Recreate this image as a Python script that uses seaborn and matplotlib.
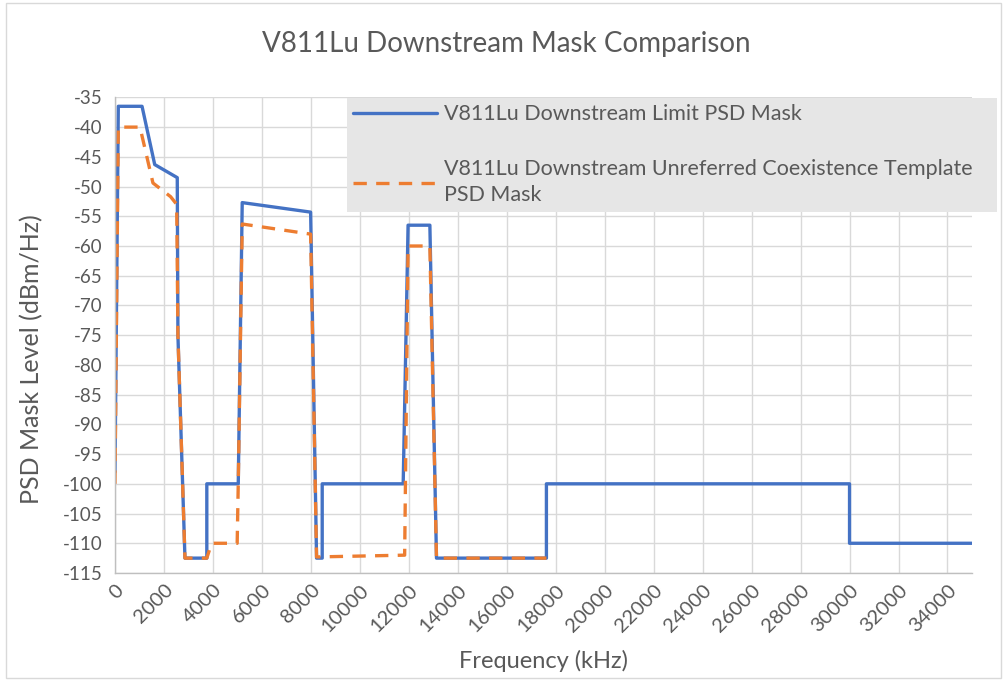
import numpy as np
import pandas as pd
import seaborn as sns
import matplotlib.pyplot as plt
from matplotlib.patches import Rectangle

# values (kHz, dBm/Hz)

freq_limit = [0, 135, 1104, 1622, 2543, 2570, 2857, 3750, 3750, 5034, 5196, 7990,
              8232, 8463, 8463, 11770, 11970, 12860, 13130, 17620, 17620,
              30000, 30000, 35000]
psd_limit = [-98, -36.5, -36.5, -46.3, -48.5, -75, -112.5, -112.5, -100, -100, -52.7, -54.3,
             -112.5, -112.5, -100, -100, -56.5, -56.5, -112.5, -112.5, -100,
             -100, -110, -110]

freq_template = [0, 135, 1020, 1550, 2270, 2520, 2570, 2857, 3750, 3945, 4990, 5034,
                 5196, 7990, 8232, 11830, 11970, 12860, 13130, 17620]
psd_template = [-100, -40, -40, -49.4, -51.7, -53, -75, -112.5, -112.5, -110, -110, -100,
                -56.3, -58, -112.3, -112, -60, -60, -112.5, -112.5]

label_limit = 'V811Lu Downstream Limit PSD Mask'
label_template = 'V811Lu Downstream Unreferred Coexistence Template\nPSD Mask'

x_ticks = list(range(0, 36000, 2000))
y_ticks = list(range(-115, -34, 5))

sns.set_style('white')
plt.rcParams['font.family'] = ['Lato', 'DejaVu Sans']

grey_text = '#595959'

fig = plt.figure(figsize=(10.07, 6.81), dpi=100)
ax = fig.add_axes([0.1142, 0.1586, 0.851, 0.6984])

sns.lineplot(x=freq_limit, y=psd_limit, sort=False, estimator=None, ax=ax,
             color='#4472C4', linewidth=2.4, label=label_limit)
sns.lineplot(x=freq_template, y=psd_template, sort=False, estimator=None, ax=ax,
             color='#ED7D31', linewidth=2.4, label=label_template)
ax.lines[1].set_dashes([4, 2.8])

ax.set_xlim(0, 35000)
ax.set_ylim(-115, -35)
ax.set_xticks(x_ticks)
ax.set_yticks(y_ticks)
ax.set_xticklabels([str(t) for t in x_ticks], rotation=45, ha='right',
                   rotation_mode='anchor', fontsize=14.5, color=grey_text)
ax.set_yticklabels([str(t) for t in y_ticks], fontsize=13.5, color=grey_text)
ax.tick_params(axis='y', length=0, pad=9)
ax.tick_params(axis='x', length=0, pad=6)
ax.grid(True, color='#D9D9D9', linewidth=1)
ax.set_axisbelow(True)

for side in ['top', 'right']:
    ax.spines[side].set_visible(False)
for side in ['left', 'bottom']:
    ax.spines[side].set_color('#BFBFBF')
    ax.spines[side].set_linewidth(1)

ax.set_xlabel('Frequency (kHz)', fontsize=17, color=grey_text, labelpad=11)
ax.set_ylabel('PSD Mask Level (dBm/Hz)', fontsize=18, color=grey_text)
ax.yaxis.set_label_coords(-0.084, 0.45)
fig.text(0.503, 0.935, 'V811Lu Downstream Mask Comparison', ha='center', va='center',
         fontsize=20, color=grey_text)

leg = ax.legend(loc='upper left',
                bbox_to_anchor=(347 / 1007, 1 - 212 / 681, 650 / 1007, 114 / 681),
                bbox_transform=fig.transFigure, mode='expand', fontsize=15.5,
                frameon=True, fancybox=False, borderaxespad=0, labelspacing=1.6,
                handlelength=3.9, handletextpad=0.3, borderpad=0.3)
leg.get_frame().set_facecolor('#E6E6E6')
leg.get_frame().set_edgecolor('none')
leg.get_frame().set_alpha(1)
for t in leg.get_texts():
    t.set_color(grey_text)
    t.set_linespacing(1.4)

fig.patches.append(Rectangle((0.006, 0.004), 0.988, 0.992, transform=fig.transFigure,
                             fill=False, edgecolor='#D9D9D9', linewidth=1))

fig.savefig('out.png', dpi=100, facecolor='white')
